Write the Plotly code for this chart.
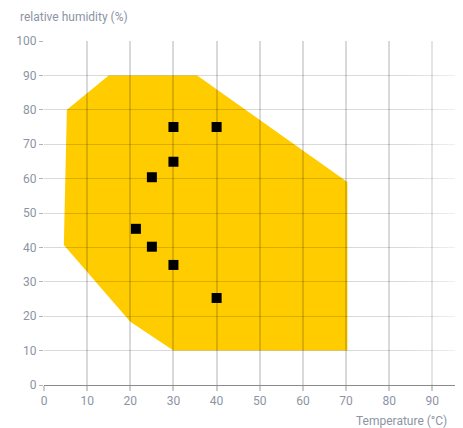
import plotly.graph_objects as go

# Climate envelope polygon (temperature °C, relative humidity %)
envelope_temp = [5.3, 15, 35.5, 70.3, 70.3, 30, 20, 4.6]
envelope_rh = [80, 90, 90, 59, 10, 10, 18.4, 40.7]

# Measurement points
point_temp = [30, 40, 30, 25, 21.3, 25, 30, 40]
point_rh = [75, 75, 64.9, 60.4, 45.4, 40.2, 34.9, 25.3]

x_ticks = [0, 10, 20, 30, 40, 50, 60, 70, 80, 90]
y_ticks = [0, 10, 20, 30, 40, 50, 60, 70, 80, 90, 100]

path = "M " + " L ".join(f"{x},{y}" for x, y in zip(envelope_temp, envelope_rh)) + " Z"

label_color = "#8c94a3"
font_family = "Roboto"

fig = go.Figure()
fig.add_trace(go.Scatter(
    x=point_temp, y=point_rh, mode="markers",
    marker=dict(symbol="square", size=10, color="black", line=dict(width=0)),
    showlegend=False, hoverinfo="skip",
))

fig.add_shape(type="path", path=path, xref="x", yref="y",
              fillcolor="#FFCC00", line=dict(width=0), layer="below")

# soft fade of the grid towards the right edge
n_strips = 12
for i in range(n_strips):
    x0 = 0.86 + i * (1.0 - 0.86) / n_strips
    x1 = x0 + (1.0 - 0.86) / n_strips
    fig.add_shape(type="rect", xref="paper", yref="paper",
                  x0=x0, x1=x1 + 0.002, y0=0.003, y1=1.01,
                  fillcolor=f"rgba(255,255,255,{0.05 * (i + 1):.2f})",
                  line=dict(width=0), layer="above")

fig.update_layout(
    width=455, height=420,
    margin=dict(l=36, r=0, t=33, b=43),
    paper_bgcolor="white", plot_bgcolor="white",
    font=dict(family=font_family, size=12, color=label_color),
    xaxis=dict(
        range=[0, 97.1], tickvals=x_ticks, ticktext=[str(v) for v in x_ticks],
        showgrid=True, gridcolor="rgba(0,0,0,0.15)", gridwidth=2,
        zeroline=False, showline=False,
        ticks="outside", ticklen=5, tickcolor="rgba(0,0,0,0.2)", tickwidth=2,
        tickfont=dict(color=label_color, size=12), fixedrange=True,
    ),
    yaxis=dict(
        range=[0, 100], tickvals=y_ticks, ticktext=[str(v) for v in y_ticks],
        showgrid=True, gridcolor="rgba(0,0,0,0.15)", gridwidth=1.2,
        zeroline=True, zerolinecolor="#8a8a8a", zerolinewidth=1,
        showline=False,
        ticks="outside", ticklen=4, tickcolor="rgba(0,0,0,0.3)", tickwidth=1,
        tickfont=dict(color=label_color, size=12), fixedrange=True,
    ),
    annotations=[
        dict(text="relative humidity (%)", xref="paper", yref="paper",
             x=-0.063, y=1.069, xanchor="left", yanchor="middle",
             showarrow=False, font=dict(size=12, color=label_color)),
        dict(text="Temperature (°C)", xref="paper", yref="paper",
             x=0.967, y=-0.105, xanchor="right", yanchor="middle",
             showarrow=False, font=dict(size=12, color=label_color)),
    ],
)

fig.write_html("out.html")
